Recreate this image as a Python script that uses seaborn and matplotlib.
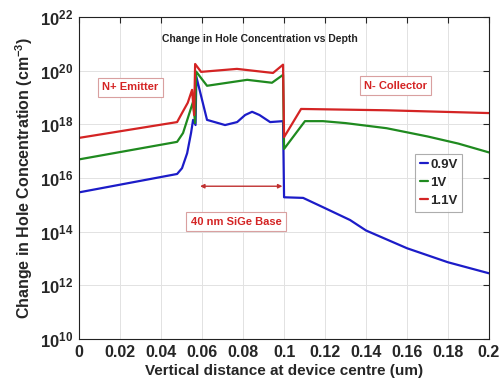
import numpy as np
import pandas as pd
import matplotlib
matplotlib.use('Agg')
import matplotlib.pyplot as plt
import seaborn as sns

# Hole concentration (cm^-3), per bias voltage
x_09 = [0, 0.0478, 0.0502, 0.0527, 0.0546, 0.0556, 0.0568, 0.0572, 0.0624, 0.0712, 0.0771,
        0.081, 0.0844, 0.088, 0.0932, 0.0995, 0.1, 0.1093, 0.119, 0.1322, 0.14, 0.16, 0.18, 0.2]
c_09 = [2.9e15, 1.4e16, 2.3e16, 8.3e16, 4.7e17, 1.45e18, 9.3e17, 5.8e19, 1.45e18, 9.3e17, 1.2e18,
        2.2e18, 2.9e18, 2.2e18, 1.2e18, 1.3e18, 1.9e15, 1.8e15, 8.1e14, 2.7e14, 1.1e14, 2.4e13, 7.2e12, 2.8e12]

x_1 = [0, 0.0478, 0.0507, 0.0556, 0.0566, 0.0571, 0.0624, 0.082, 0.0941, 0.0995,
       0.1, 0.1102, 0.119, 0.13, 0.15, 0.17, 0.185, 0.2]
c_1 = [4.9e16, 2.2e17, 4.7e17, 6.9e18, 1.1e18, 9.1e19, 2.7e19, 4.5e19, 3.5e19, 6.9e19,
       1.2e17, 1.3e18, 1.3e18, 1.1e18, 7.1e17, 3.5e17, 1.9e17, 8.9e16]

x_11 = [0, 0.0478, 0.0502, 0.053, 0.0551, 0.0561, 0.0566, 0.0595, 0.077, 0.0946, 0.0995,
        0.1, 0.1083, 0.15, 0.2]
c_11 = [3.1e17, 1.2e18, 2.6e18, 6.3e18, 1.9e19, 2.2e18, 1.75e20, 8.9e19, 1.15e20, 8.1e19, 1.65e20,
        3.3e17, 3.7e18, 3.3e18, 2.6e18]

labels = ['0.9V', '1V', '1.1V']
colors = ['#1c1cc8', '#1f8a1f', '#d42424']

xticks = [0, 0.02, 0.04, 0.06, 0.08, 0.1, 0.12, 0.14, 0.16, 0.18, 0.2]
xticklabels = ['0', '0.02', '0.04', '0.06', '0.08', '0.1', '0.12', '0.14', '0.16', '0.18', '0.2']
yexp = [10, 12, 14, 16, 18, 20, 22]

df = pd.concat([
    pd.DataFrame({'x': x_09, 'c': c_09, 'bias': labels[0]}),
    pd.DataFrame({'x': x_1, 'c': c_1, 'bias': labels[1]}),
    pd.DataFrame({'x': x_11, 'c': c_11, 'bias': labels[2]}),
], ignore_index=True)

sns.set_style('white')
plt.rcParams['font.family'] = ['Liberation Sans', 'DejaVu Sans']
plt.rcParams['font.weight'] = 'bold'
plt.rcParams['mathtext.fontset'] = 'custom'
plt.rcParams['mathtext.rm'] = 'Liberation Sans:bold'
plt.rcParams['mathtext.bf'] = 'Liberation Sans:bold'
plt.rcParams['mathtext.default'] = 'rm'

fig = plt.figure(figsize=(5.01, 3.91), dpi=100)
ax = fig.add_axes([0.158, 0.133, 0.818, 0.824])

sns.lineplot(data=df, x='x', y='c', hue='bias', palette=dict(zip(labels, colors)),
             estimator=None, sort=False, linewidth=1.6, ax=ax)

ax.set_yscale('log')
ax.set_xlim(0, 0.2)
ax.set_ylim(1e10, 1e22)
ax.set_xticks(xticks)
ax.set_xticklabels(xticklabels)
ax.set_yticks([10.0 ** e for e in yexp])
ax.set_yticklabels(['10$^{%d}$' % e for e in yexp])
ax.minorticks_off()
ax.tick_params(axis='x', direction='in', top=True, length=4, width=0.8,
               labelsize=11.5, pad=4)
ax.tick_params(axis='y', direction='in', right=True, length=4, width=0.8,
               labelsize=12, pad=4)
ax.grid(True, color='#e2e2e2', linewidth=0.7)
for s in ax.spines.values():
    s.set_color('#222222')
    s.set_linewidth(0.8)

ax.set_xlabel('Vertical distance at device centre (um)', fontsize=11, fontweight='bold', labelpad=3)
ax.set_ylabel('Change in Hole Concentration (cm$^{-3}$)', fontsize=11.5, fontweight='bold', labelpad=4)

ax.text(0.44, 0.93, 'Change in Hole Concentration vs Depth', transform=ax.transAxes,
        ha='center', va='center', fontsize=7.5, fontweight='bold', color='#222222')

box = dict(boxstyle='square,pad=0.4', facecolor='white', edgecolor='#d9a0a0', linewidth=0.8)
ax.text(0.025, 10 ** 19.37, 'N+ Emitter', ha='center', va='center', fontsize=8,
        fontweight='bold', color='#d42424', bbox=box)
ax.text(0.1544, 10 ** 19.43, 'N- Collector', ha='center', va='center', fontsize=8,
        fontweight='bold', color='#d42424', bbox=box)
ax.text(0.0766, 10 ** 14.37, '40 nm SiGe Base', ha='center', va='center', fontsize=8,
        fontweight='bold', color='#d42424', bbox=box)
ax.annotate('', xy=(0.0992, 10 ** 15.69), xytext=(0.059, 10 ** 15.69),
            arrowprops=dict(arrowstyle='<|-|>', color='#c03030', lw=1.0,
                            mutation_scale=6, shrinkA=0, shrinkB=0))

leg = ax.legend(loc='upper left', bbox_to_anchor=(0.82, 0.575), frameon=True,
                fontsize=9.5, handlelength=0.6, handletextpad=0.2, borderpad=0.35,
                labelspacing=0.45, borderaxespad=0, fancybox=False)
leg.get_frame().set_edgecolor('#999999')
leg.get_frame().set_linewidth(0.8)
for t in leg.get_texts():
    t.set_fontweight('bold')

fig.savefig('out.png', dpi=100)
